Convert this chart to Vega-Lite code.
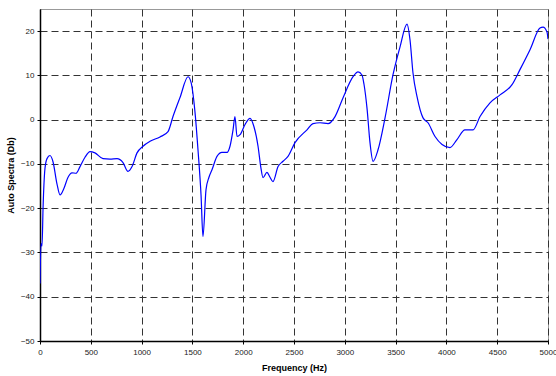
{
  "$schema": "https://vega.github.io/schema/vega-lite/v6.json",
  "width": 508,
  "height": 332,
  "autosize": {"type": "none"},
  "padding": {"left": 40, "top": 9, "right": 8, "bottom": 35},
  "background": "white",
  "config": {
    "view": {"stroke": "#999999", "strokeWidth": 1},
    "font": "Liberation Sans"
  },
  "data": {
    "values": [
      {"f": 0, "db": -37}, {"f": 10, "db": -28}, {"f": 20, "db": -28.5}, {"f": 30, "db": -20},
      {"f": 49, "db": -11}, {"f": 69, "db": -8.8}, {"f": 98, "db": -8.1}, {"f": 128, "db": -9.5},
      {"f": 167, "db": -14.5}, {"f": 197, "db": -17}, {"f": 236, "db": -15.5}, {"f": 276, "db": -13},
      {"f": 315, "db": -12}, {"f": 354, "db": -12.1}, {"f": 394, "db": -10.6}, {"f": 443, "db": -8.5},
      {"f": 492, "db": -7.2}, {"f": 541, "db": -7.5}, {"f": 620, "db": -8.8}, {"f": 689, "db": -8.9},
      {"f": 758, "db": -8.8}, {"f": 817, "db": -9.7}, {"f": 866, "db": -11.7}, {"f": 906, "db": -10.6},
      {"f": 955, "db": -7.5}, {"f": 1014, "db": -6}, {"f": 1083, "db": -4.9}, {"f": 1181, "db": -3.9},
      {"f": 1260, "db": -2.7}, {"f": 1309, "db": 0.7}, {"f": 1378, "db": 5}, {"f": 1457, "db": 9.7},
      {"f": 1486, "db": 8.5}, {"f": 1526, "db": 1.6}, {"f": 1555, "db": -6.8}, {"f": 1585, "db": -17},
      {"f": 1604, "db": -26.4}, {"f": 1634, "db": -15.8}, {"f": 1663, "db": -13}, {"f": 1693, "db": -11.3},
      {"f": 1742, "db": -8.3}, {"f": 1791, "db": -7.4}, {"f": 1841, "db": -7.4}, {"f": 1870, "db": -6},
      {"f": 1900, "db": -2.3}, {"f": 1919, "db": 0.7}, {"f": 1939, "db": -3.8}, {"f": 1969, "db": -3.4},
      {"f": 2018, "db": -1.1}, {"f": 2067, "db": 0.3}, {"f": 2106, "db": -1.6}, {"f": 2146, "db": -6},
      {"f": 2175, "db": -11}, {"f": 2195, "db": -13.1}, {"f": 2234, "db": -11.9}, {"f": 2264, "db": -13},
      {"f": 2293, "db": -14}, {"f": 2343, "db": -10.6}, {"f": 2392, "db": -9.4}, {"f": 2441, "db": -8.3},
      {"f": 2510, "db": -5.2}, {"f": 2628, "db": -2.3}, {"f": 2687, "db": -0.9}, {"f": 2756, "db": -0.7},
      {"f": 2835, "db": -0.9}, {"f": 2904, "db": 0.7}, {"f": 2982, "db": 4.9}, {"f": 3081, "db": 9.7},
      {"f": 3130, "db": 10.8}, {"f": 3169, "db": 10.1}, {"f": 3189, "db": 8}, {"f": 3219, "db": 2.5},
      {"f": 3248, "db": -5.2}, {"f": 3278, "db": -9.4}, {"f": 3327, "db": -6.8}, {"f": 3396, "db": 0.4},
      {"f": 3474, "db": 10.1}, {"f": 3543, "db": 16.4}, {"f": 3612, "db": 21.6}, {"f": 3642, "db": 18},
      {"f": 3671, "db": 10.6}, {"f": 3711, "db": 5.2}, {"f": 3770, "db": 0.4}, {"f": 3819, "db": -0.7},
      {"f": 3888, "db": -3.8}, {"f": 3957, "db": -5.6}, {"f": 4035, "db": -6.3}, {"f": 4104, "db": -4.5},
      {"f": 4183, "db": -2.3}, {"f": 4262, "db": -2.3}, {"f": 4331, "db": 0.7}, {"f": 4429, "db": 3.8},
      {"f": 4528, "db": 5.6}, {"f": 4646, "db": 7.9}, {"f": 4724, "db": 11.3}, {"f": 4823, "db": 15.8},
      {"f": 4921, "db": 20.7}, {"f": 4951, "db": 20.9}, {"f": 4990, "db": 19.8}, {"f": 5000, "db": 18.2}
    ]
  },
  "mark": {"type": "line", "color": "#0000ff", "strokeWidth": 1.2, "interpolate": "monotone", "clip": true},
  "encoding": {
    "x": {
      "field": "f", "type": "quantitative",
      "scale": {"domain": [0, 5000], "nice": false, "zero": false},
      "axis": {
        "title": "Frequency (Hz)", "values": [0, 500, 1000, 1500, 2000, 2500, 3000, 3500, 4000, 4500, 5000],
        "format": "d", "grid": true, "gridColor": "#333333", "gridDash": [7, 4], "gridOpacity": 1, "gridWidth": 1,
        "domainColor": "#000000", "domainWidth": 1.5, "tickColor": "#000000", "tickSize": 3,
        "labelFont": "Liberation Sans", "labelFontSize": 8, "labelColor": "#222222", "labelPadding": 4,
        "titleFont": "Liberation Sans", "titleFontSize": 9, "titleFontWeight": "bold", "titleColor": "#000000", "titlePadding": 7,
        "labelFlush": false
      }
    },
    "y": {
      "field": "db", "type": "quantitative",
      "scale": {"domain": [-50, 25], "nice": false, "zero": false},
      "axis": {
        "title": "Auto Spectra (Db)", "values": [-50, -40, -30, -20, -10, 0, 10, 20],
        "grid": true, "gridColor": "#333333", "gridDash": [7, 4], "gridOpacity": 1, "gridWidth": 1,
        "domainColor": "#000000", "domainWidth": 1.5, "tickColor": "#000000", "tickSize": 3,
        "labelFont": "Liberation Sans", "labelFontSize": 8, "labelColor": "#222222", "labelPadding": 3,
        "titleFont": "Liberation Sans", "titleFontSize": 9, "titleFontWeight": "bold", "titleColor": "#000000", "titlePadding": 5,
        "labelFlush": false
      }
    }
  }
}
